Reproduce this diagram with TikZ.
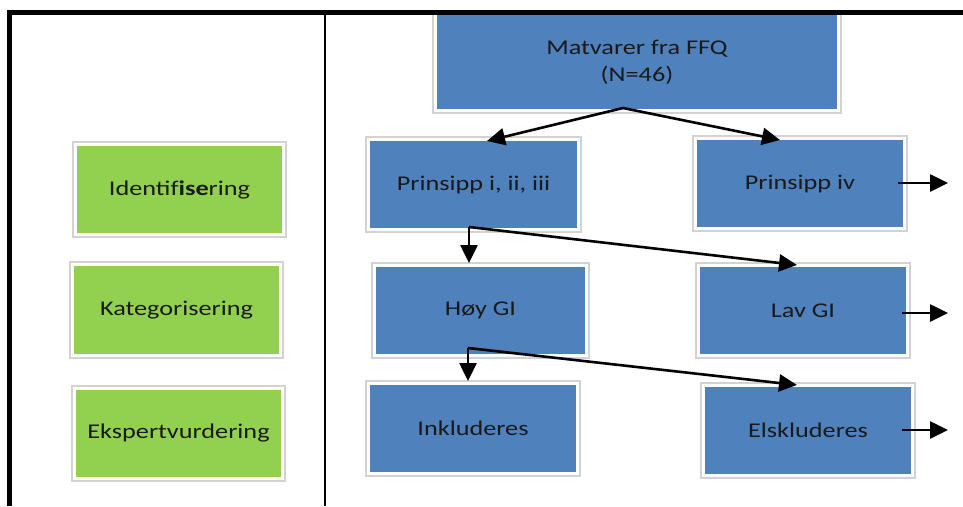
\documentclass[tikz,border=0pt]{standalone}
\usepackage{fontspec}
\setmainfont{Carlito}[FakeStretch=1.25]
\usetikzlibrary{arrows.meta,calc}
\definecolor{boxblue}{HTML}{4F81BD}
\definecolor{boxgreen}{HTML}{92D050}
\definecolor{framegray}{HTML}{D2D2D2}
\definecolor{inktext}{HTML}{1A1A1A}
\tikzset{
  basebox/.style={rectangle, draw=none, inner sep=0pt, outer sep=4pt,
    text=inktext, align=center, font=\fontsize{21}{27}\selectfont,
    minimum height=87pt},
  bluebox/.style={basebox, fill=boxblue},
  greenbox/.style={basebox, fill=boxgreen},
  boxframe/.style={draw=framegray, line width=1.2pt},
  flow/.style={draw=black, line width=2.6pt, -{Triangle[length=18pt,width=17pt]}},
  rule/.style={draw=black, line width=4.5pt},
  divider/.style={draw=black, line width=2pt}
}
\begin{document}
\begin{tikzpicture}[x=1pt,y=-1pt]
\useasboundingbox (0,0) rectangle (963,506);

% stage labels on the left
\node[greenbox, minimum width=205pt] (g1) at (179.5,189.5) {Identif\textbf{ise}ring};
\node[greenbox, minimum width=205pt, minimum height=88pt] (g2) at (176.5,310) {Kategorisering};
\node[greenbox, minimum width=205pt] (g3) at (178.5,433.5) {Ekspertvurdering};

% flow boxes
\node[bluebox, minimum width=400pt, minimum height=94pt] (m) at (637,62) {Matvarer fra FFQ\\(N=46)};
\node[bluebox, minimum width=207pt] (p1) at (473.5,184.5) {Prinsipp i, ii, iii};
\node[bluebox, minimum width=206pt] (p4) at (800,183.5) {Prinsipp iv};
\node[bluebox, minimum width=209pt] (hoy) at (480.5,310.5) {Høy GI};
\node[bluebox, minimum width=206pt] (lav) at (803,310.5) {Lav GI};
\node[bluebox, minimum width=206pt] (ink) at (473,428.5) {Inkluderes};
\node[bluebox, minimum width=206pt] (els) at (808,430.5) {Elskluderes};

% thin light frames around every box
\foreach \n in {g1,g2,g3,m,p1,p4,hoy,lav,ink,els}
  \draw[boxframe] (\n.south west) rectangle (\n.north east);

% branching points
\coordinate (mfork) at (623,108);
\coordinate (pfork) at (469,227);
\coordinate (hfork) at (468,348);

% connectors
\draw[flow] (mfork) -- ($(p1.north)+(13.5,4)$);
\draw[flow] (mfork) -- ($(p4.north)+(-20,4)$);
\draw[flow] (pfork) -- (pfork |- hoy.north);
\draw[flow] (pfork) -- ($(lav.north)+(-6,2)$);
\draw[flow] (hfork) -- (hfork |- ink.north);
\draw[flow] (hfork) -- ($(els.north)+(-11,2)$);

% exits to the right
\coordinate (x1) at (948,183);
\coordinate (x2) at (948,313);
\coordinate (x3) at (948,430);
\draw[flow] ([xshift=-9pt]p4.east |- x1) -- (x1);
\draw[flow] ([xshift=-8pt]lav.east |- x2) -- (x2);
\draw[flow] ([xshift=-13pt]els.east |- x3) -- (x3);

% outer frame and column divider
\draw[divider] (325,12) -- (325,506);
\draw[rule] (9.5,506) -- (9.5,12.5) -- (963,12.5);
\end{tikzpicture}
\end{document}
